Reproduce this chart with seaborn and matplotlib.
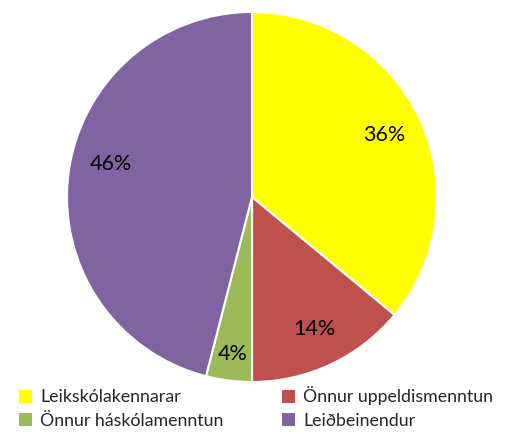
import matplotlib
matplotlib.use("Agg")
import matplotlib.pyplot as plt
import seaborn as sns
from matplotlib.patches import Patch

categories = ["Leikskólakennarar", "Önnur uppeldismenntun", "Önnur háskólamenntun", "Leiðbeinendur"]
values = [36, 14, 4, 46]
colors = ["#FFFF00", "#C0504D", "#9BBB59", "#8064A2"]

sns.set_style("white")
plt.rcParams["font.family"] = ["Lato", "DejaVu Sans"]

fig = plt.figure(figsize=(5.2, 4.34), dpi=100)
ax = fig.add_axes([(252 - 185) / 520, (434 - 382) / 434, 370 / 520, 370 / 434])
wedges, texts, autotexts = ax.pie(
    values, colors=colors, startangle=90, counterclock=False,
    autopct=lambda p: f"{p:.0f}%", pctdistance=0.79,
    wedgeprops=dict(edgecolor="white", linewidth=1.5),
    textprops=dict(fontsize=15.5, color="black"))
# nudge labels slightly as in the original's best-fit placement
x, y = autotexts[2].get_position()
autotexts[2].set_position((x * 1.08, y * 1.08))
x, y = autotexts[3].get_position()
autotexts[3].set_position((x + 0.02, y + 0.08))
ax.set_xlim(-1.0, 1.0)
ax.set_ylim(-1.0, 1.0)
ax.set_aspect("equal")
ax.axis("off")

order = [0, 2, 1, 3]
handles = [Patch(facecolor=colors[i], edgecolor="none") for i in order]
labels = [categories[i] for i in order]
fig.legend(handles, labels, ncol=2, loc="lower left", bbox_to_anchor=(0.005, -0.025),
           frameon=False, fontsize=12.8, handlelength=0.75, handleheight=0.75,
           handletextpad=0.45, columnspacing=3.3, labelspacing=0.42)

fig.savefig("out.png", dpi=100)
